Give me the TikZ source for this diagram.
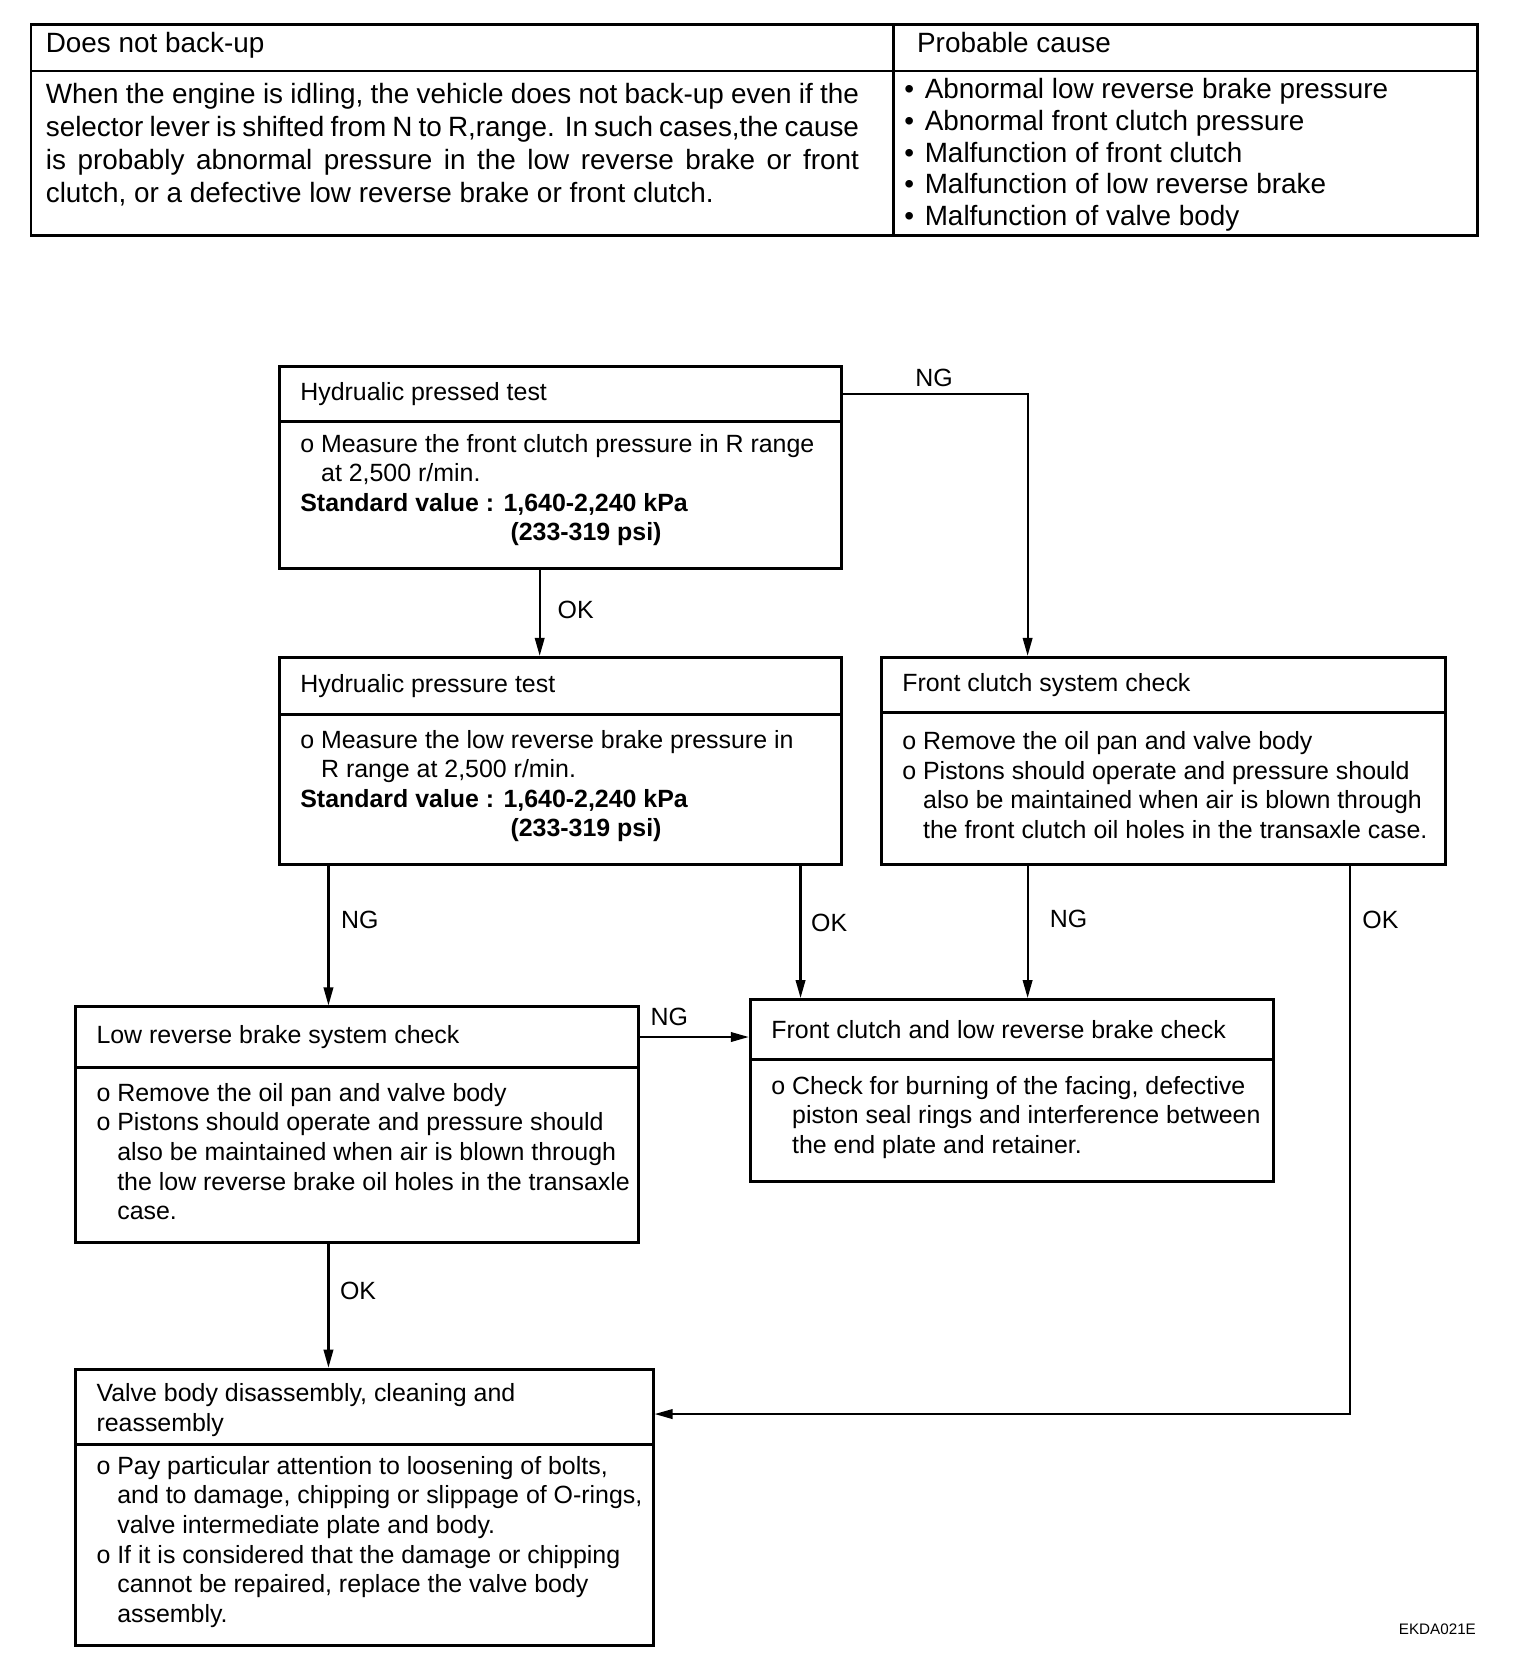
\documentclass[tikz,border=0pt]{standalone}
\usepackage{fontspec}
\setmainfont{Liberation Sans}
\usetikzlibrary{arrows.meta}
\newcommand\ind{\hphantom{o\ }}
\begin{document}
\begin{tikzpicture}[x=0.5pt,y=-0.5pt,
  bx/.style n args={2}{draw,line width=1.4pt,inner sep=0pt,minimum width=#1,minimum height=#2,anchor=north west},
  tcell/.style n args={2}{draw,line width=1.2pt,inner sep=0pt,minimum width=#1,minimum height=#2,anchor=north west},
  txt/.style={inner sep=0pt,anchor=west,align=left,font=\fontsize{11.8}{14}\selectfont},
  btxt/.style={txt,yshift=1.5pt},
  ttxt/.style={inner sep=0pt,font=\fontsize{13.2}{15.65}\selectfont},
  lbl/.style={inner sep=0pt,font=\fontsize{11.8}{14}\selectfont},
  arr/.style={line width=1pt,-{Triangle[length=8.5pt,width=4.5pt]}}]

\path[use as bounding box] (0,0) rectangle (1454,1568);

% ---------- top table ----------
\node[tcell={408.5pt}{22pt}] (hL) at (28,22) {};
\node[tcell={276.5pt}{22pt}] (hR) at (845,22) {};
\node[tcell={408.5pt}{78pt}] (bL) at (28,66) {};
\node[tcell={276.5pt}{78pt}] (bR) at (845,66) {};
\node[ttxt,anchor=base west] (hLt) at (43,50) {Does not back-up};
\node[ttxt,anchor=base west] (hRt) at (868,50) {Probable cause};
\node[ttxt,anchor=north west,text width=385pt,align=justify] (bLt) at (43,78)
 {When the engine is idling, the vehicle does not back-up even if the\linebreak
  selector lever is shifted from N to R,range. In such cases,the cause\linebreak
  is probably abnormal pressure in the low reverse brake or front\linebreak
  clutch, or a defective low reverse brake or front clutch.};
\node[ttxt,anchor=north west,align=left,font=\fontsize{13.2}{15}\selectfont] (bRt) at (856,74)
 {•\hspace{5pt}Abnormal low reverse brake pressure\\
  •\hspace{5pt}Abnormal front clutch pressure\\
  •\hspace{5pt}Malfunction of front clutch\\
  •\hspace{5pt}Malfunction of low reverse brake\\
  •\hspace{5pt}Malfunction of valve body};

% ---------- boxes ----------
\node[bx={266pt}{26pt}] (Ah) at (263,346) {};
\node[bx={266pt}{69.5pt}] (Ab) at (263,398) {};
\node[bx={266pt}{27pt}] (Bh) at (263,621) {};
\node[bx={266pt}{71pt}] (Bb) at (263,675) {};
\node[bx={267pt}{26pt}] (Ch) at (833,621) {};
\node[bx={267pt}{72pt}] (Cb) at (833,673) {};
\node[bx={266.5pt}{28.5pt}] (Dh) at (70,952) {};
\node[bx={266.5pt}{83pt}] (Db) at (70,1009) {};
\node[bx={247.5pt}{28.5pt}] (Eh) at (709,945) {};
\node[bx={247.5pt}{57.5pt}] (Eb) at (709,1002) {};
\node[bx={273.5pt}{35.5pt}] (Fh) at (70,1295) {};
\node[bx={273.5pt}{95.5pt}] (Fb) at (70,1366) {};

\node[txt] (Aht) at ([xshift=10.5pt]Ah.west) {Hydrualic pressed test};
\node[btxt,yshift=1pt] (Abt) at ([xshift=10.5pt]Ab.west)
 {o Measure the front clutch pressure in R range\\
  \ind at 2,500 r/min.\\
  \textbf{Standard value : 1,640-2,240 kPa}\\
  \hspace*{99.5pt}\textbf{(233-319 psi)}};
\node[txt] (Bht) at ([xshift=10.5pt]Bh.west) {Hydrualic pressure test};
\node[btxt] (Bbt) at ([xshift=10.5pt]Bb.west)
 {o Measure the low reverse brake pressure in\\
  \ind R range at 2,500 r/min.\\
  \textbf{Standard value : 1,640-2,240 kPa}\\
  \hspace*{99.5pt}\textbf{(233-319 psi)}};
\node[txt] (Cht) at ([xshift=10.5pt]Ch.west) {Front clutch system check};
\node[btxt] (Cbt) at ([xshift=10.5pt]Cb.west)
 {o Remove the oil pan and valve body\\
  o Pistons should operate and pressure should\\
  \ind also be maintained when air is blown through\\
  \ind the front clutch oil holes in the transaxle case.};
\node[txt] (Dht) at ([xshift=10.5pt]Dh.west) {Low reverse brake system check};
\node[btxt] (Dbt) at ([xshift=10.5pt]Db.west)
 {o Remove the oil pan and valve body\\
  o Pistons should operate and pressure should\\
  \ind also be maintained when air is blown through\\
  \ind the low reverse brake oil holes in the transaxle\\
  \ind case.};
\node[txt] (Eht) at ([xshift=10.5pt]Eh.west) {Front clutch and low reverse brake check};
\node[btxt] (Ebt) at ([xshift=10.5pt]Eb.west)
 {o Check for burning of the facing, defective\\
  \ind piston seal rings and interference between\\
  \ind the end plate and retainer.};
\node[txt,yshift=-1.5pt] (Fht) at ([xshift=10.5pt]Fh.west)
 {Valve body disassembly, cleaning and\\reassembly};
\node[btxt] (Fbt) at ([xshift=10.5pt]Fb.west)
 {o Pay particular attention to loosening of bolts,\\
  \ind and to damage, chipping or slippage of O-rings,\\
  \ind valve intermediate plate and body.\\
  o If it is considered that the damage or chipping\\
  \ind cannot be repaired, replace the valve body\\
  \ind assembly.};

% ---------- connectors ----------
\coordinate (xA) at (511,0);
\coordinate (xC) at (973,0);
\coordinate (xL) at (311,0);
\coordinate (xE) at (758,0);
\coordinate (xR) at (1278,0);

\draw[arr] (Ab.south -| xA) -- node[lbl,anchor=west,pos=0.46,xshift=8pt] (ok1) {OK} (Bh.north -| xA);
\draw[arr] (Ah.east) -| node[lbl,anchor=south,pos=0.247,yshift=3pt] (ng1) {NG} (Ch.north -| xC);
\draw[arr] (Bb.south -| xL) -- node[lbl,anchor=west,pos=0.39,xshift=5.5pt] (ng2) {NG} (Dh.north -| xL);
\draw[arr] (Bb.south -| xE) -- node[lbl,anchor=west,pos=0.43,xshift=4.5pt] (ok2) {OK} (Eh.north -| xE);
\draw[arr] (Cb.south -| xC) -- node[lbl,anchor=west,pos=0.4,xshift=10pt] (ng3) {NG} (Eh.north -| xC);
\draw[arr] (Cb.south -| xR) |- node[lbl,anchor=west,pos=0.049,xshift=5.5pt] (ok3) {OK} ([yshift=-3.5pt]Fh.east);
\draw[arr] (Dh.east) -- node[lbl,anchor=south,pos=0.27,yshift=5pt] (ng4) {NG} (Dh.east -| Eh.west);
\draw[arr] (Db.south -| xL) -- node[lbl,anchor=west,pos=0.38,xshift=5pt] (ok4) {OK} (Fh.north -| xL);

\node[inner sep=0pt,font=\fontsize{7.2}{8}\selectfont] (code) at (1361,1543) {EKDA021E};
\end{tikzpicture}
\end{document}
